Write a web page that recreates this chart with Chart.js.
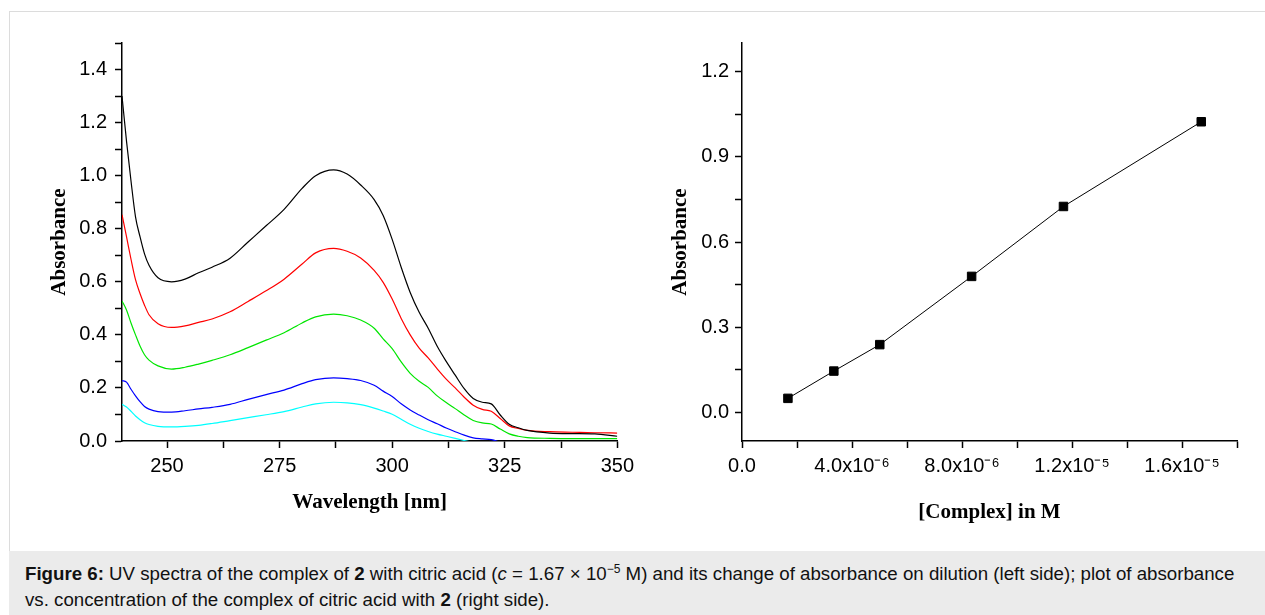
<!DOCTYPE html>
<html>
<head>
<meta charset="utf-8">
<script src="https://cdn.jsdelivr.net/npm/chart.js@4.4.1/dist/chart.umd.min.js"></script>
<style>
  html, body { margin: 0; padding: 0; background: #fff; }
  body { width: 1265px; height: 615px; position: relative; overflow: hidden; }
  #panel { position: absolute; left: 9px; top: 11px; width: 1270px; height: 620px; border: 1px solid #dcdcdc; }
  #spectraChart { position: absolute; left: 0; top: 0; }
  #dilutionChart { position: absolute; left: 640px; top: 0; }
  #caption {
    position: absolute; left: 9px; top: 551px; width: 1260px; height: 70px;
    background: #ebebeb; box-sizing: border-box; padding: 11px 0 0 16px;
    font: 18.7px Arial, 'Liberation Sans', sans-serif; line-height: 23px; color: #111;
  }
  #caption sup { font-size: 12px; vertical-align: 0; position: relative; top: -7px; }
</style>
</head>
<body>
<div id="panel"></div>
<canvas id="spectraChart" width="640" height="530"></canvas>
<canvas id="dilutionChart" width="625" height="530"></canvas>
<div id="caption"><b>Figure 6:</b> UV spectra of the complex of <b>2</b> with citric acid (<i>c</i> = 1.67 × 10<sup>−5</sup> M) and its change of absorbance on dilution (left side); plot of absorbance<br>vs. concentration of the complex of citric acid with <b>2</b> (right side).</div>
<script>
// left panel: spectra at each dilution
const wavelengths = [240, 241, 242, 243, 244, 245, 246, 248, 251, 254, 257, 260, 264, 268, 272, 276, 280, 283, 287, 290,
  293, 296, 298, 300, 302, 304, 306, 308, 310, 312, 314, 316, 318, 320, 322, 324, 326, 328, 330, 335, 340, 345, 350];
const absBlack = [1.30, 1.13, 0.98, 0.845, 0.77, 0.705, 0.662, 0.615, 0.600, 0.610, 0.634, 0.655, 0.689, 0.750, 0.811, 0.873, 0.952, 1.000, 1.022, 1.006,
  0.965, 0.910, 0.850, 0.760, 0.655, 0.560, 0.485, 0.425, 0.357, 0.300, 0.248, 0.197, 0.160, 0.146, 0.140, 0.098, 0.063, 0.050, 0.040, 0.030, 0.028, 0.027, 0.018];
const absRed = [0.853, 0.77, 0.685, 0.608, 0.556, 0.512, 0.476, 0.442, 0.428, 0.434, 0.447, 0.460, 0.487, 0.526, 0.566, 0.610, 0.667, 0.709, 0.726, 0.715,
  0.690, 0.643, 0.598, 0.535, 0.462, 0.400, 0.350, 0.313, 0.272, 0.233, 0.200, 0.165, 0.135, 0.119, 0.112, 0.085, 0.057, 0.047, 0.040, 0.035, 0.033, 0.031, 0.030];
const absGreen = [0.528, 0.494, 0.445, 0.400, 0.358, 0.325, 0.305, 0.283, 0.271, 0.278, 0.290, 0.304, 0.325, 0.352, 0.380, 0.408, 0.445, 0.468, 0.478, 0.472,
  0.456, 0.425, 0.385, 0.348, 0.298, 0.255, 0.225, 0.202, 0.170, 0.145, 0.122, 0.098, 0.077, 0.068, 0.064, 0.045, 0.027, 0.018, 0.013, 0.010, 0.009, 0.009, 0.009];
const absBlue = [0.228, 0.222, 0.195, 0.170, 0.148, 0.130, 0.120, 0.111, 0.109, 0.114, 0.121, 0.127, 0.138, 0.157, 0.175, 0.192, 0.216, 0.231, 0.238, 0.235,
  0.228, 0.210, 0.188, 0.168, 0.140, 0.117, 0.098, 0.080, 0.065, 0.049, 0.035, 0.022, 0.012, 0.008, 0.005, -0.004, null, null, null, null, null, null, null];
const absCyan = [0.138, 0.128, 0.112, 0.094, 0.080, 0.069, 0.062, 0.055, 0.053, 0.055, 0.059, 0.066, 0.077, 0.088, 0.099, 0.111, 0.128, 0.140, 0.146, 0.144,
  0.137, 0.124, 0.113, 0.101, 0.082, 0.063, 0.048, 0.036, 0.026, 0.018, 0.010, 0.002, -0.006, null, null, null, null, null, null, null, null, null, null];

const wlTicks = [250, 262.5, 275, 287.5, 300, 312.5, 325, 337.5, 350];
const wlTickLabels = ['250', '', '275', '', '300', '', '325', '', '350'];
const absTicks = [0, 0.1, 0.2, 0.3, 0.4, 0.5, 0.6, 0.7, 0.8, 0.9, 1.0, 1.1, 1.2, 1.3, 1.4, 1.5];
const absTickLabels = ['0.0', '', '0.2', '', '0.4', '', '0.6', '', '0.8', '', '1.0', '', '1.2', '', '1.4', ''];

// right panel: absorbance vs concentration
const complexConc = [1.67e-6, 3.34e-6, 5.01e-6, 8.35e-6, 1.169e-5, 1.67e-5];
const absorbance = [0.050, 0.146, 0.239, 0.479, 0.725, 1.023];

const concTicks = [0, 2e-6, 4e-6, 6e-6, 8e-6, 1e-5, 1.2e-5, 1.4e-5, 1.6e-5, 1.8e-5];
const concTickLabels = ['0.0', '', '4.0x10⁻⁶', '', '8.0x10⁻⁶', '', '1.2x10⁻⁵', '', '1.6x10⁻⁵', ''];
const concAbsTicks = [0, 0.15, 0.3, 0.45, 0.6, 0.75, 0.9, 1.05, 1.2];
const concAbsTickLabels = ['0.0', '', '0.3', '', '0.6', '', '0.9', '', '1.2'];

const sansFont = "Arial, 'Liberation Sans', sans-serif";
const serifFont = "'Times New Roman', 'Liberation Serif', serif";

function axis(min, max, tickVals, tickLabels, size, title, titlePad, labelPad) {
  return {
    type: 'linear', min: min, max: max,
    afterBuildTicks: s => { s.ticks = tickVals.map(v => ({ value: v })); },
    afterFit: s => { if (s.isHorizontal()) s.height = size; else s.width = size; },
    ticks: {
      callback: (v, i) => tickLabels[i],
      autoSkip: false, maxRotation: 0, padding: labelPad,
      color: '#000', font: { family: sansFont, size: 20 }
    },
    grid: { drawOnChartArea: false, tickLength: 7, tickColor: '#000', tickWidth: 1.5 },
    border: { color: '#000', width: 1.5 },
    title: {
      display: true, text: title, color: '#000',
      font: { family: serifFont, size: 21, weight: 'bold' },
      padding: titlePad
    }
  };
}

function spectrum(values, colour) {
  return {
    data: wavelengths.map((w, i) => ({ x: w, y: values[i] })),
    borderColor: colour, borderWidth: 1.2,
    pointRadius: 0, cubicInterpolationMode: 'monotone', spanGaps: false
  };
}

new Chart(document.getElementById('spectraChart'), {
  type: 'line',
  data: {
    datasets: [
      spectrum(absBlack, '#000000'),
      spectrum(absRed, '#ff0000'),
      spectrum(absGreen, '#00e600'),
      spectrum(absBlue, '#0000ff'),
      spectrum(absCyan, '#00ffff')
    ]
  },
  options: {
    responsive: false, animation: false,
    layout: { padding: { top: 43, right: 21, left: 0, bottom: 0 } },
    plugins: { legend: { display: false }, tooltip: { enabled: false } },
    scales: {
      x: axis(240, 350, wlTicks, wlTickLabels, 89, 'Wavelength [nm]', { top: 0, bottom: 15 }, 6),
      y: axis(0, 1.5, absTicks, absTickLabels, 122, 'Absorbance', { top: 47, bottom: 0 }, 8)
    }
  }
});

new Chart(document.getElementById('dilutionChart'), {
  type: 'line',
  data: {
    datasets: [{
      data: complexConc.map((c, i) => ({ x: c, y: absorbance[i] })),
      borderColor: '#000', borderWidth: 1,
      pointStyle: 'rect', pointRadius: 6, pointBorderWidth: 1,
      pointBackgroundColor: '#000', pointBorderColor: '#000'
    }]
  },
  options: {
    responsive: false, animation: false,
    layout: { padding: { top: 43, right: 28, left: 0, bottom: 0 } },
    plugins: { legend: { display: false }, tooltip: { enabled: false } },
    scales: {
      x: axis(0, 1.8e-5, concTicks, concTickLabels, 89, '[Complex] in M', { top: 0, bottom: 5 }, 6),
      y: axis(-0.1, 1.3, concAbsTicks, concAbsTickLabels, 102, 'Absorbance', { top: 28, bottom: 0 }, 6)
    }
  }
});
</script>
</body>
</html>
